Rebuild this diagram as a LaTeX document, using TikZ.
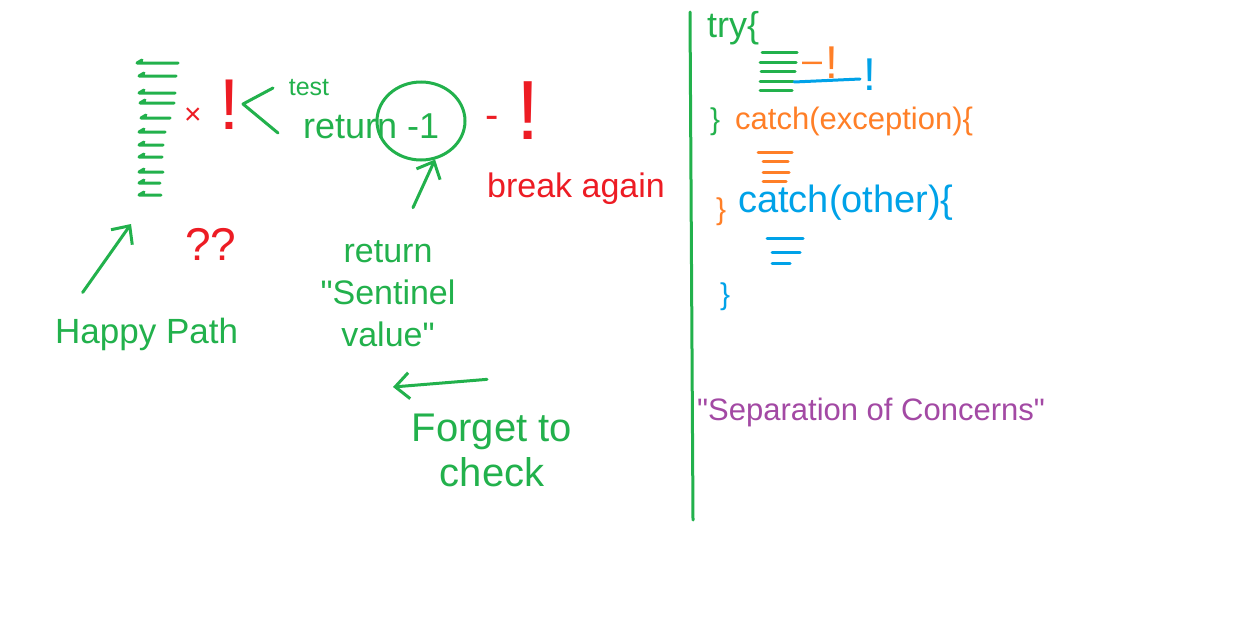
\documentclass[tikz,border=0pt]{standalone}
\usepackage{fontspec}
\setmainfont{Liberation Sans}
\usetikzlibrary{arrows.meta,shapes.geometric}
\definecolor{PenGreen}{RGB}{34,177,76}
\definecolor{PenRed}{RGB}{237,28,36}
\definecolor{PenOrange}{RGB}{255,127,39}
\definecolor{PenBlue}{RGB}{0,162,232}
\definecolor{PenPurple}{RGB}{163,73,164}
\newcommand{\inksize}[2]{\fontsize{#1}{#2}\selectfont}
\tikzset{
  pen/.style={line width=3pt, line cap=round, line join=round},
  greenpen/.style={pen, draw=PenGreen},
  orangepen/.style={pen, draw=PenOrange},
  bluepen/.style={pen, draw=PenBlue},
  greentext/.style={inner sep=0pt, text=PenGreen, align=center},
  redtext/.style={inner sep=0pt, text=PenRed, align=center},
  orangetext/.style={inner sep=0pt, text=PenOrange},
  bluetext/.style={inner sep=0pt, text=PenBlue},
  purpletext/.style={inner sep=0pt, text=PenPurple},
  arrow/.style={greenpen, -{Straight Barb[length=14pt, width=26pt]}}
}

\begin{document}
\begin{tikzpicture}[x=1pt, y=-1pt]
  \fill[white] (0,0) rectangle (1246,621);
  \useasboundingbox (0,0) rectangle (1246,621);
  % happy path code
  \foreach \y/\a/\b in {63/137/178, 76/139/176, 93/139/175, 103/140/174, 118/141/170,
      132/139/165, 145/139/163, 157/139/162, 172/139/163, 183/139/160, 195/139/161}
    \draw[greenpen] (\a+5,\y-3) -- (\a,\y) -- (\b,\y);
  \coordinate (stackfoot) at (131,224);
  \node[redtext, font=\inksize{30}{34}] (mark) at (193,116) {×};
  \node[redtext, font=\inksize{72}{80}, anchor=base] (bang) at (229,129) {!};
  \draw[greenpen] (273,88) -- (243,104) -- (278,133);
  \node[greentext, font=\inksize{25}{28}] (test) at (309,88) {test};
  \node[greentext, font=\inksize{36}{40}, anchor=base west] (ret) at (303,138) {return -1};
  \node[ellipse, draw=PenGreen, line width=3pt, minimum width=88pt, minimum height=78pt,
    inner sep=0pt] (circ) at (421,121) {};
  \node[redtext, font=\inksize{40}{44}] (dash) at (492,122) {-};
  \node[redtext, font=\inksize{84}{90}, anchor=base] (bang2) at (528,139) {!};
  \node[redtext, font=\inksize{34}{40}, anchor=base west] (again) at (487,197) {break again};
  \node[redtext, font=\inksize{46}{52}, anchor=base] (huh) at (211,260) {??};
  \node[greentext, font=\inksize{35}{40}, anchor=base west] (happy) at (55,343) {Happy Path};
  \node[greentext, font=\inksize{34}{42}] (sentret) at (388,294)
    {return\\\textquotedbl Sentinel\\value\textquotedbl};
  \node[greentext, font=\inksize{40}{45}] (forget) at (492,450) {Forget to\\check};
  \coordinate (leftend) at (393,387);
  \draw[arrow] ([xshift=-64pt, yshift=25pt]happy.north) -- (stackfoot);
  \draw[arrow] ([xshift=25pt, yshift=33pt]sentret.north) -- (circ.-70);
  \draw[arrow] ([xshift=-5pt, yshift=34pt]forget.north) -- (leftend);
  % divider
  \draw[greenpen] (690,12) -- (693,520);
  % try / catch
  \node[greentext, font=\inksize{36}{40}, anchor=base west] (try) at (707,37) {try\{};
  \foreach \y/\a/\b in {52/762/797, 62/760/796, 71/761/795, 81/760/793, 90/760/792}
    \draw[greenpen] (\a,\y) -- (\b,\y);
  \node[orangetext, font=\inksize{36}{40}] (odash) at (812,67) {--};
  \node[orangetext, font=\inksize{46}{50}, anchor=base] (obang) at (832,78) {!};
  \draw[bluepen] (794,82) -- (860,79);
  \node[bluetext, font=\inksize{46}{50}, anchor=base] (bbang) at (870,90) {!};
  \node[greentext, font=\inksize{30}{34}] (close1) at (715,122) {\}};
  \node[orangetext, font=\inksize{31}{36}, anchor=base west] (catch1) at (735,129) {catch(exception)\{};
  \foreach \y/\a/\b in {152/758/792, 161/763/788, 172/763/789, 181/763/786}
    \draw[orangepen] (\a,\y) -- (\b,\y);
  \node[orangetext, font=\inksize{30}{34}] (close2) at (721,212) {\}};
  \node[bluetext, font=\inksize{38}{42}, anchor=base west] (catch2) at (738,212) {catch(other)\{};
  \foreach \y/\a/\b in {238/767/803, 252/772/800, 263/772/790}
    \draw[bluepen] (\a,\y) -- (\b,\y);
  \node[bluetext, font=\inksize{30}{34}] (close3) at (725,297) {\}};
  \node[purpletext, font=\inksize{31}{36}, anchor=base west] (soc) at (697,420)
    {\textquotedbl Separation of Concerns\textquotedbl};
\end{tikzpicture}
\end{document}
